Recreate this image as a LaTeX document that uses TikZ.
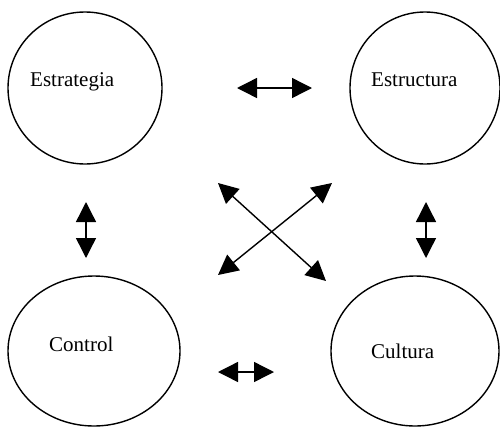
\documentclass[tikz,border=0pt]{standalone}
\usepackage{fontspec}
\setmainfont{Liberation Serif}
\usetikzlibrary{arrows.meta,shapes.geometric}
\begin{document}
\begin{tikzpicture}[x=1pt,y=-1pt,
  circ/.style={draw,ellipse,line width=1.4pt,inner sep=0pt},
  lbl/.style={anchor=base west,inner sep=0pt,font=\fontsize{21}{24}\selectfont},
  dbl/.style={line width=1.4pt,{Triangle[length=20pt,width=20pt]}-{Triangle[length=20pt,width=20pt]}}]
\useasboundingbox (0,0) rectangle (500,426);
\node[circ,minimum width=154pt,minimum height=152pt] (estr) at (85,88) {};
\node[circ,minimum width=150pt,minimum height=152pt] (estc) at (425,88) {};
\node[circ,minimum width=172pt,minimum height=150pt] (ctrl) at (94,351) {};
\node[circ,minimum width=168pt,minimum height=150pt] (cult) at (415,351) {};
\node[lbl] (t1) at (30,86) {Estrategia};
\node[lbl] (t2) at (371,86) {Estructura};
\node[lbl] (t3) at (49,351) {Control};
\node[lbl] (t4) at (371,358) {Cultura};
\coordinate (h1a) at (237,88);
\coordinate (h1b) at (312,88);
\coordinate (h2a) at (218,372);
\coordinate (h2b) at (274,372);
\coordinate (v1a) at (86,202);
\coordinate (v1b) at (86,258);
\coordinate (v2a) at (426,202);
\coordinate (v2b) at (426,258);
\coordinate (d1a) at (218,183);
\coordinate (d1b) at (326,281);
\coordinate (d2a) at (218,275);
\coordinate (d2b) at (332,183);
\draw[dbl] (h1a) -- (h1b);
\draw[dbl] (h2a) -- (h2b);
\draw[dbl] (v1a) -- (v1b);
\draw[dbl] (v2a) -- (v2b);
\draw[dbl] (d1a) -- (d1b);
\draw[dbl] (d2a) -- (d2b);
\end{tikzpicture}
\end{document}
